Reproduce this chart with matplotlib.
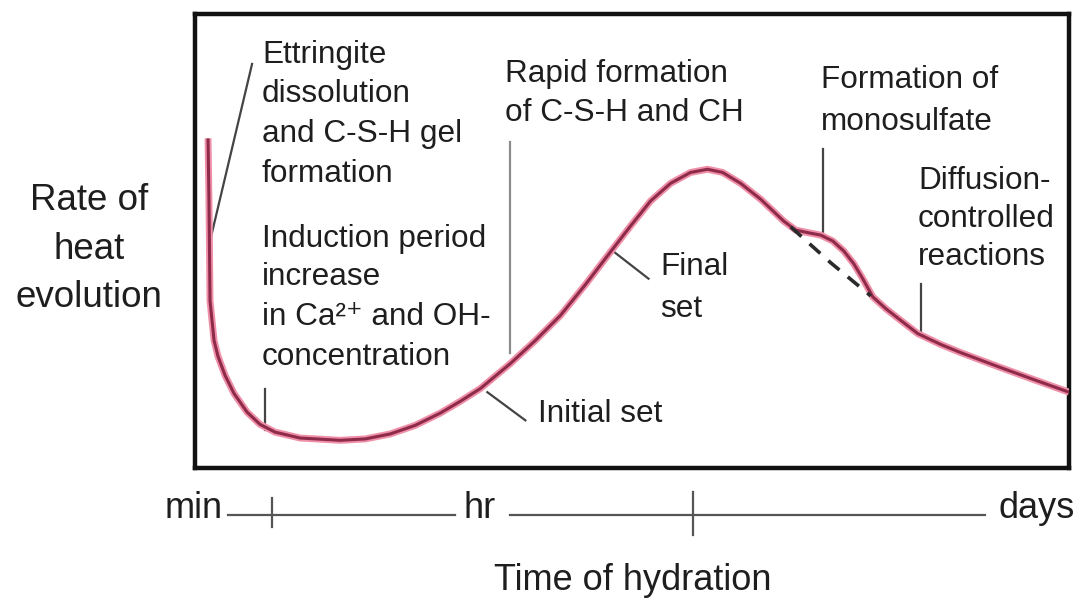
"""
Heat evolution of hydrating cement, schematic curve with stage labels.
"""

import matplotlib
matplotlib.use("Agg")
import matplotlib.pyplot as plt

# ── data (time and rate in relative units 0-100) ─────────────────────────────
TIME = [1.49, 1.60, 1.72, 2.18, 2.63, 3.44, 4.47, 5.96, 7.45, 9.16, 12.03,
        16.61, 19.47, 22.34, 25.20, 28.07, 30.36, 32.65, 36.08, 38.95, 41.81,
        44.67, 47.54, 49.83, 52.12, 54.41, 56.70, 58.65, 60.37, 62.43, 64.72,
        67.35, 68.73, 70.22, 71.59, 72.97, 74.23, 75.37, 76.40, 77.55, 79.04,
        80.76, 82.70, 85.34, 87.63, 92.21, 96.22, 100.0]
RATE = [72.6, 58.8, 36.8, 28.1, 24.6, 20.4, 16.4, 12.3, 9.6, 7.9, 6.6,
        6.1, 6.4, 7.5, 9.4, 12.1, 14.7, 17.5, 23.0, 28.1, 33.6,
        40.4, 47.6, 53.3, 58.8, 62.7, 65.1, 65.8, 65.1, 62.7, 59.2,
        54.4, 52.4, 51.8, 51.3, 50.0, 47.8, 45.0, 41.7, 37.7, 35.1,
        32.5, 29.6, 27.2, 25.4, 22.1, 19.3, 16.7]

# curve without the monosulfate bump
NOBUMP_TIME = [68.16, 72.74, 77.32]
NOBUMP_RATE = [53.1, 45.2, 37.9]

# leader lines: (t0, r0, t1, r1)
LEADERS = {
    "ettringite":  (1.72, 50.0, 6.53, 89.0),
    "induction":   (8.02, 17.5, 8.02, 8.3),
    "rapid":       (36.08, 71.9, 36.08, 25.4),
    "initial_set": (33.45, 16.7, 37.80, 10.5),
    "final_set":   (47.54, 48.2, 51.89, 41.7),
    "monosulfate": (71.82, 70.2, 71.82, 51.5),
    "diffusion":   (83.05, 40.6, 83.05, 29.6),
}

# labels: (x px, baseline y px, text)
LABELS = [
    (262, 63, "Ettringite"), (262, 102, "dissolution"),
    (262, 142, "and C-S-H gel"), (262, 182, "formation"),
    (262, 247, "Induction period"), (262, 285, "increase"),
    (262, 325, "in Ca²⁺ and OH-"), (262, 365, "concentration"),
    (505, 82, "Rapid formation"), (505, 121, "of C-S-H and CH"),
    (821, 88, "Formation of"), (821, 130, "monosulfate"),
    (918, 189, "Diffusion-"), (918, 227, "controlled"), (918, 265, "reactions"),
    (660, 275, "Final"), (660, 317, "set"),
    (538, 422, "Initial set"),
]
YLABEL = ["Rate of", "heat", "evolution"]
TIME_TICKS = ["min", "hr", "days"]
XLABEL = "Time of hydration"

W, H = 1078, 601
FONT = ["Liberation Sans", "DejaVu Sans"]
TXT = "#1e1e1e"


def fx(px):
    return px / W


def fy(py):
    return 1 - py / H


def main():
    plt.rcParams["font.family"] = FONT
    fig = plt.figure(figsize=(W / 100, H / 100), dpi=100)
    fig.patch.set_facecolor("white")

    ax = fig.add_axes([fx(195), fy(468), (1069 - 195) / W, (468 - 14) / H])
    ax.set_xlim(0, 100)
    ax.set_ylim(0, 100)
    ax.set_xticks([])
    ax.set_yticks([])
    for sp in ax.spines.values():
        sp.set_linewidth(3.2)
        sp.set_color("#111111")

    # main curve: pink halo + dark core
    ax.plot(TIME, RATE, color="#ef8fa8", linewidth=5, solid_joinstyle="round",
            solid_capstyle="butt", zorder=3)
    ax.plot(TIME, RATE, color="#8e2b4b", linewidth=2.2, solid_joinstyle="round",
            solid_capstyle="butt", zorder=4)
    ax.plot(NOBUMP_TIME, NOBUMP_RATE, color="#2b2b2b", linewidth=2.6,
            linestyle=(0, (4, 3)), zorder=4)

    for key, (t0, r0, t1, r1) in LEADERS.items():
        col = "#8c8c8c" if key == "rapid" else "#444444"
        ax.plot([t0, t1], [r0, r1], color=col, linewidth=1.6, zorder=2)

    for x, y, s in LABELS:
        fig.text(fx(x), fy(y), s, fontsize=22.7, color=TXT, ha="left", va="baseline")

    for i, s in enumerate(YLABEL):
        fig.text(fx(89), fy(210 + 48.5 * i), s, fontsize=26.5, color=TXT,
                 ha="center", va="baseline")

    # time axis below the box
    fig.text(fx(165), fy(518), TIME_TICKS[0], fontsize=26, color=TXT, va="baseline")
    fig.text(fx(464), fy(518), TIME_TICKS[1], fontsize=26, color=TXT, va="baseline")
    fig.text(fx(998), fy(518), TIME_TICKS[2], fontsize=26, color=TXT, va="baseline")
    line_kw = dict(color="#555555", linewidth=1.6, transform=fig.transFigure)
    fig.add_artist(plt.Line2D([fx(228), fx(455)], [fy(515), fy(515)], **line_kw))
    fig.add_artist(plt.Line2D([fx(510), fx(985)], [fy(515), fy(515)], **line_kw))
    fig.add_artist(plt.Line2D([fx(272), fx(272)], [fy(498), fy(527)], **line_kw))
    fig.add_artist(plt.Line2D([fx(693), fx(693)], [fy(492), fy(535)], **line_kw))

    fig.text(fx(633), fy(590), XLABEL, fontsize=26, color=TXT, ha="center",
             va="baseline")

    fig.savefig("out.png", dpi=100)


if __name__ == "__main__":
    main()
